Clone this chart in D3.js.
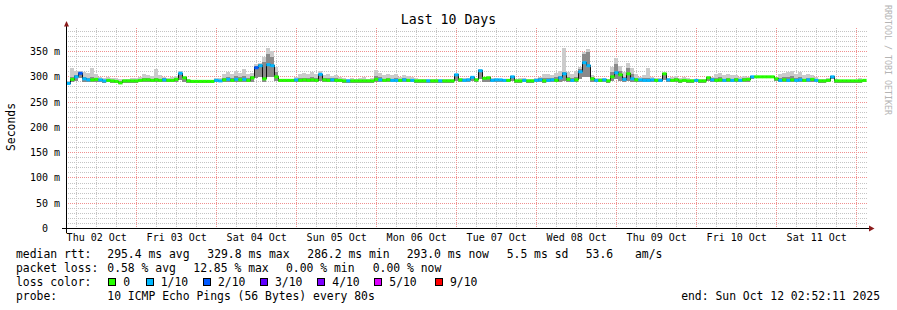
<!DOCTYPE html>
<html>
<head>
<meta charset="utf-8">
<title>Last 10 Days</title>
<style type="text/css">
  body{margin:0;background:#fff;}
  svg{display:block;font-family:"DejaVu Sans Mono",monospace;}
  .pre{white-space:pre;}
</style>
</head>
<body>
<div id="graph-container"></div>
<script src="https://d3js.org/d3.v7.min.js"></script>
<script type="text/javascript">

// one sample every 72 minutes, values in ms
var median = [
  287,295,300,307,296,294,294,295,294,292, 293,292,291,288,292,292,292,292,293,294,
  294,293,294,293,294,293,293,295,307,298, 292,291,291,291,291,291,291,293,292,294,
  295,293,295,294,295,293,298,318,322,296, 324,322,300,293,293,293,293,294,293,294,
  293,294,293,305,294,293,294,293,293,292, 292,292,292,292,292,292,292,295,294,293,
  294,293,293,293,294,293,293,292,292,292, 292,292,292,292,292,292,292,304,294,293,
  294,299,294,312,297,298,293,294,294,293, 293,300,292,292,293,292,292,293,294,292,
  293,294,293,298,306,295,293,294,310,328, 322,296,293,293,294,292,300,308,304,295,
  306,296,294,294,293,293,294,293,293,306, 294,293,294,292,293,292,292,293,292,292,
  298,294,293,294,293,294,293,294,293,294, 295,300,300,300,300,300,300,296,293,294,
  293,294,293,294,293,294,295,293,292,292, 293,300,292,292,292,292,292,292,292,293]

// lost pings out of 10
var loss = [
  1,0,1,2,1,1,0,0,1,1, 0,0,0,0,0,0,0,0,0,0,
  0,0,0,0,1,0,0,0,1,0, 0,0,0,0,0,0,0,1,1,0,
  1,0,1,0,1,0,0,2,1,0, 1,1,0,0,0,0,0,1,0,0,
  0,0,0,1,0,0,1,0,0,0, 1,0,0,0,0,0,0,0,1,0,
  0,1,1,0,1,0,1,0,0,0, 1,0,0,1,0,0,0,1,0,1,
  1,1,0,1,0,0,1,1,1,1, 0,1,0,0,1,0,0,1,1,0,
  1,1,0,1,1,0,1,0,1,1, 1,0,1,0,1,0,0,1,0,1,
  0,1,0,1,1,1,1,0,1,0, 1,0,0,0,0,0,0,1,0,0,
  0,1,0,0,1,0,1,0,1,0, 0,1,0,0,0,0,0,0,1,0,
  1,0,1,1,0,1,0,1,0,0, 0,1,0,0,0,0,0,0,0,0]

var smokeMin = [
  285,289,292,298,290,289,289,290,289,288, 289,288,287,285,288,288,288,288,289,289,
  289,289,289,289,289,289,289,290,294,290, 288,288,288,288,288,288,288,289,289,289,
  290,289,290,289,290,289,290,298,300,290, 300,300,292,289,289,289,289,289,289,289,
  289,289,289,292,289,289,289,289,289,288, 288,288,288,288,288,288,288,289,289,289,
  289,289,289,289,289,289,289,288,288,288, 288,288,288,288,288,288,288,292,289,289,
  289,292,289,296,290,290,289,289,289,289, 289,292,288,288,289,288,288,289,289,288,
  289,289,289,290,292,290,289,289,296,300, 300,290,289,289,289,288,292,296,292,290,
  292,290,289,289,289,289,289,289,289,294, 289,289,289,288,289,288,288,289,288,288,
  292,289,289,289,289,289,289,289,289,289, 290,296,297,297,297,297,297,292,289,289,
  289,289,289,289,289,289,289,289,288,288, 289,296,288,288,288,288,288,288,288,289]

var smokeMid = [
  290,300,304,310,300,298,300,298,296,294, 296,294,293,291,294,294,294,294,296,298,
  297,296,298,296,297,295,296,298,308,300, 294,292,292,292,292,292,292,295,294,298,
  300,298,302,299,302,297,302,322,326,330, 345,340,310,294,294,294,294,296,297,298,
  297,299,297,306,297,297,297,297,295,293, 293,294,293,294,294,293,293,302,299,296,
  298,296,297,295,298,296,296,293,293,293, 294,293,293,294,293,293,293,305,296,295,
  296,300,296,314,299,299,295,296,295,295, 295,301,294,294,295,294,294,295,297,297,
  298,297,299,302,310,300,297,300,315,345, 350,300,295,295,296,294,310,325,312,300,
  318,305,298,296,297,298,296,295,295,308, 296,296,297,294,296,294,294,294,294,294,
  300,297,297,299,296,298,296,297,295,297, 297,301,300,300,300,300,300,298,298,299,
  300,301,297,300,296,298,297,295,294,294, 295,301,294,293,293,293,293,293,294,293]

var smokeMax = [
  292,318,312,312,310,308,318,306,300,298, 300,298,297,295,295,296,297,298,300,305,
  304,302,315,303,300,298,300,302,312,302, 296,294,294,294,294,294,294,298,297,306,
  310,306,312,308,315,306,308,326,328,340, 358,352,320,296,295,295,295,300,306,308,
  306,310,306,312,304,305,302,304,300,298, 296,298,296,298,300,296,298,314,308,304,
  306,303,305,300,304,302,300,297,295,295, 296,295,295,296,295,295,296,306,298,297,
  298,302,298,316,300,301,297,297,296,296, 296,302,296,297,298,296,296,298,300,305,
  306,304,308,312,358,310,306,312,320,350, 356,304,298,297,298,296,320,338,322,310,
  328,318,306,300,304,318,300,298,298,308, 298,300,302,298,300,298,296,296,295,296,
  301,300,305,308,304,306,303,304,300,302, 300,302,301,301,301,301,301,300,306,308,
  310,312,306,310,304,306,304,300,296,296, 297,302,296,294,294,294,294,294,298,294]

var yTickValues = [0, 50, 100, 150, 200, 250, 300, 350]
var yTickLabels = ['0  ', '50 m', '100 m', '150 m', '200 m', '250 m', '300 m', '350 m']

var lossLevels = [0, 1, 2, 3, 4, 5, 9]
var lossLabels = ['0', '1/10', '2/10', '3/10', '4/10', '5/10', '9/10']
var lossColors = ['#26ff00', '#00b8ff', '#0059ff', '#5e00ff', '#7e00ff', '#dd00ff', '#ff0000']

var rttStats = ['295.4 ms avg', '329.8 ms max', '286.2 ms min', '293.0 ms now', '5.5 ms sd', '53.6', 'am/s']
var lossStats = ['0.58 % avg', '12.85 % max', '0.00 % min', '0.00 % now']
var probeText = '10 ICMP Echo Pings (56 Bytes) every 80s'
var endText = 'end: Sun Oct 12 02:52:11 2025'

var startTime = Date.UTC(2025, 9, 2, 2, 52, 11)
var endTime = Date.UTC(2025, 9, 12, 2, 52, 11)
var stepMs = 72*60*1000
var halfDay = 12*3600*1000

var width = 897, height = 310
var plot = {left: 66.3, right: 866.3, top: 27, bottom: 228.5}

var xScale = d3.scaleUtc().domain([startTime, endTime]).range([plot.left, plot.right])
var yScale = d3.scaleLinear().domain([0, 396]).range([plot.bottom, 28.3])

function crisp(v){ return Math.floor(v)+0.5 }
function lossColor(n){
  var c = lossColors[0]
  lossLevels.forEach((l, i)=>{ if(n >= l) c = lossColors[i] })
  return c
}

var data = median.map((m, i)=>({
  t: startTime + i*stepMs, med: m, loss: loss[i],
  lo: smokeMin[i], mid: smokeMid[i], hi: smokeMax[i]
}))
var stepped = data.concat([Object.assign({}, data[data.length-1], {t: endTime})])

var svg = d3.select('#graph-container').append('svg')
  .attr('width', width)
  .attr('height', height)

svg.append('rect').attr('width', width).attr('height', height).attr('fill', '#fff')

var defs = svg.append('defs')
defs.append('clipPath').attr('id', 'plotclip')
  .append('rect')
  .attr('x', 66).attr('y', plot.top)
  .attr('width', 801).attr('height', plot.bottom - plot.top + 1)

// dotted grid strokes as 1px patterns, so every dot lands on a whole pixel
function dotPattern(id, color, horizontal){
  var p = defs.append('pattern').attr('id', id)
    .attr('patternUnits', 'userSpaceOnUse')
    .attr('width', horizontal ? 2 : 1).attr('height', horizontal ? 1 : 2)
  p.append('rect').attr('width', 1).attr('height', 1).attr('fill', color)
}
dotPattern('minorH', '#c4c4c4', true)
dotPattern('minorV', '#c4c4c4', false)
dotPattern('majorH', '#f09090', true)
dotPattern('majorV', '#f09090', false)

var grid = svg.append('g').attr('shape-rendering', 'crispEdges')
function hLine(v, pat){
  grid.append('rect').attr('x', 67).attr('width', 800)
    .attr('y', Math.floor(yScale(v))).attr('height', 1)
    .attr('fill', 'url(#' + pat + ')')
}
function vLine(d, pat){
  grid.append('rect').attr('y', plot.top).attr('height', 228 - plot.top)
    .attr('x', Math.floor(xScale(d))).attr('width', 1)
    .attr('fill', 'url(#' + pat + ')')
}
yScale.ticks(40).filter((v)=>v % 50 !== 0).forEach((v)=>hLine(v, 'minorH'))
xScale.ticks(d3.utcHour.every(6)).filter((d)=>d.getUTCHours() !== 0).forEach((d)=>vLine(d, 'minorV'))
yTickValues.slice(1).forEach((v)=>hLine(v, 'majorH'))
xScale.ticks(d3.utcDay).forEach((d)=>vLine(d, 'majorV'))

// smoke
var chart = svg.append('g').attr('clip-path', 'url(#plotclip)')
chart.append('path')
  .datum(stepped)
  .attr('fill', '#cbcbcb')
  .attr('shape-rendering', 'crispEdges')
  .attr('d', d3.area().curve(d3.curveStepAfter)
    .x((d)=>xScale(d.t)).y0((d)=>yScale(d.lo)).y1((d)=>yScale(d.hi)))
chart.append('path')
  .datum(stepped)
  .attr('fill', '#8a8a8a')
  .attr('shape-rendering', 'crispEdges')
  .attr('d', d3.area().curve(d3.curveStepAfter)
    .x((d)=>xScale(d.t)).y0((d)=>yScale(d.lo)).y1((d)=>yScale(d.mid)))

// median line
chart.append('path')
  .datum(stepped)
  .attr('fill', 'none')
  .attr('stroke', '#111')
  .attr('stroke-width', 1)
  .attr('shape-rendering', 'crispEdges')
  .attr('d', d3.line().curve(d3.curveStepAfter)
    .x((d)=>xScale(d.t)).y((d)=>yScale(d.med)))
chart.selectAll('rect.med')
  .data(data)
  .enter()
  .append('rect')
  .attr('class', 'med')
  .attr('x', (d)=>xScale(d.t))
  .attr('width', (d)=>xScale(d.t + stepMs) - xScale(d.t) + 0.3)
  .attr('y', (d)=>yScale(d.med) - 1.5)
  .attr('height', 3)
  .attr('fill', (d)=>lossColor(d.loss))

// axes
var axes = svg.append('g').attr('shape-rendering', 'crispEdges')
axes.append('line').attr('x1', 62).attr('x2', 869).attr('y1', 228.5).attr('y2', 228.5)
  .attr('stroke', '#000')
axes.append('line').attr('x1', 66.5).attr('x2', 66.5).attr('y1', 233).attr('y2', 26)
  .attr('stroke', '#000')
svg.append('path').attr('d', 'M64,26.5L69,26.5L66.5,21Z').attr('fill', '#8c1c1c')
svg.append('path').attr('d', 'M869,225.5L869,231.5L874.5,228.5Z').attr('fill', '#8c1c1c')

svg.selectAll('text.ylab')
  .data(yTickValues)
  .enter()
  .append('text')
  .attr('class', 'ylab pre')
  .attr('x', 60)
  .attr('y', (d)=>crisp(yScale(d)) + 3.5)
  .attr('text-anchor', 'end')
  .attr('font-size', '10px')
  .text((d, i)=>yTickLabels[i])

var labelDays = d3.utcDay.range(d3.utcDay.floor(startTime), endTime)
  .filter((d)=>+d + halfDay > startTime && +d + halfDay < endTime)
svg.selectAll('text.xlab')
  .data(labelDays)
  .enter()
  .append('text')
  .attr('class', 'xlab')
  .attr('x', (d)=>xScale(+d + halfDay))
  .attr('y', 241)
  .attr('text-anchor', 'middle')
  .attr('font-size', '10px')
  .text(d3.utcFormat('%a %d %b'))

svg.append('text')
  .attr('x', 448.5).attr('y', 24)
  .attr('text-anchor', 'middle')
  .attr('font-size', '13.2px')
  .text('Last 10 Days')

svg.append('text')
  .attr('transform', 'translate(15,127) rotate(-90)')
  .attr('text-anchor', 'middle')
  .attr('font-size', '11.4px')
  .text('Seconds')

svg.append('text')
  .attr('transform', 'translate(885,5) rotate(90)')
  .attr('font-size', '8.3px')
  .attr('fill', '#b4b4b4')
  .text('RRDTOOL / TOBI OETIKER')

// legend
var legend = svg.append('g').attr('font-size', '11.4px')
legend.append('text').attr('x', 16).attr('y', 258).text('median rtt:')
var rttX = [107.3, 207.3, 307.3, 406.7, 506.7, 585.7, 635]
rttStats.forEach((s, i)=>{
  legend.append('text').attr('x', rttX[i]).attr('y', 258).text(s)
})
legend.append('text').attr('x', 16).attr('y', 272).text('packet loss:')
var lossX = [107.3, 193.3, 286, 372.7]
lossStats.forEach((s, i)=>{
  legend.append('text').attr('x', lossX[i]).attr('y', 272).text(s)
})
legend.append('text').attr('x', 16).attr('y', 286).text('loss color:')
var boxX = [108.3, 145.7, 203, 260, 317.3, 374.3, 435]
lossLabels.forEach((s, i)=>{
  legend.append('rect')
    .attr('x', Math.round(boxX[i]) + 0.5).attr('y', 278.5)
    .attr('width', 7).attr('height', 7)
    .attr('fill', lossColors[i]).attr('stroke', '#000')
    .attr('shape-rendering', 'crispEdges')
  legend.append('text').attr('x', boxX[i] + 15).attr('y', 286).text(s)
})
legend.append('text').attr('x', 16).attr('y', 300).text('probe:')
legend.append('text').attr('x', 107.3).attr('y', 300).text(probeText)
legend.append('text').attr('x', 880).attr('y', 300).attr('text-anchor', 'end').text(endText)

</script>
</body>
</html>
